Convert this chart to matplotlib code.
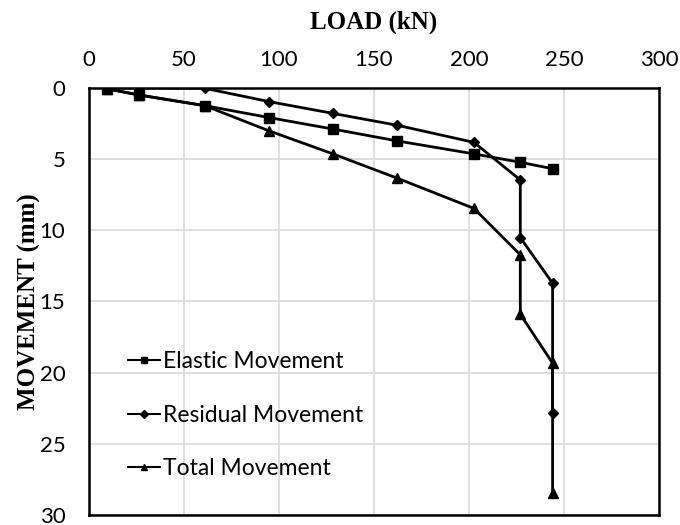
import matplotlib
matplotlib.use("Agg")
import matplotlib.pyplot as plt

# values
elastic_load = [9.3, 26.5, 60.9, 94.9, 128.2, 162.3, 202.6, 227, 244]
elastic_mov = [0.05, 0.49, 1.24, 2.08, 2.88, 3.72, 4.63, 5.22, 5.67]

residual_load = [9.3, 26.5, 60.9, 94.9, 128.2, 162.3, 202.6, 227, 227, 244, 244]
residual_mov = [0.0, 0.0, 0.02, 0.96, 1.78, 2.62, 3.82, 6.46, 10.51, 13.72, 22.85]

total_load = [9.3, 26.5, 60.9, 94.9, 128.2, 162.3, 202.6, 227, 227, 244, 244]
total_mov = [0.05, 0.5, 1.24, 3.02, 4.62, 6.34, 8.46, 11.72, 15.9, 19.33, 28.46]

x_ticks = [0, 50, 100, 150, 200, 250, 300]
y_ticks = [0, 5, 10, 15, 20, 25, 30]

plt.rcParams['font.family'] = ['Lato', 'DejaVu Sans']

fig = plt.figure(figsize=(6.8, 5.25), dpi=100)
ax = fig.add_axes([89/680, 1-515/525, 570/680, 427/525])

ax.plot(elastic_load, elastic_mov, color='black', lw=2, marker='s', ms=7,
        label='Elastic Movement')
ax.plot(residual_load, residual_mov, color='black', lw=2, marker='D', ms=5.5,
        label='Residual Movement')
ax.plot(total_load, total_mov, color='black', lw=2, marker='^', ms=7.5,
        label='Total Movement')

ax.set_xlim(0, 300)
ax.set_ylim(30, 0)
ax.set_xticks(x_ticks)
ax.set_yticks(y_ticks)
ax.xaxis.tick_top()
ax.xaxis.set_label_position('top')
ax.tick_params(axis='both', length=0, labelsize=16)
ax.tick_params(axis='x', pad=13)
ax.tick_params(axis='y', pad=17)

ax.grid(True, color='#d9d9d9', lw=1.2)
ax.set_axisbelow(True)
for s in ax.spines.values():
    s.set_linewidth(1.8)
    s.set_color('black')

ax.set_xlabel('LOAD (kN)', fontfamily='Liberation Serif', fontweight='bold',
              fontsize=18)
ax.set_ylabel('MOVEMENT (mm)', fontfamily='Liberation Serif', fontweight='bold',
              fontsize=18)
ax.xaxis.set_label_coords(0.5, 1.138)
ax.yaxis.set_label_coords(-0.085, 0.5)

leg = ax.legend(loc='center left', bbox_to_anchor=(0.068, 0.234), frameon=False,
                fontsize=16.5, handlelength=1.4, handletextpad=0.13,
                labelspacing=1.4, borderaxespad=0, borderpad=0)
for h in leg.legend_handles:
    h.set_markersize(4)
    h.set_linewidth(1.5)

fig.savefig('out.png', dpi=100)
